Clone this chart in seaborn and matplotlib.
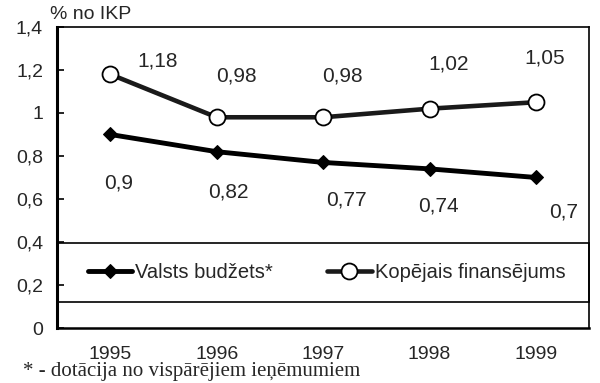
import matplotlib
matplotlib.use("Agg")
import matplotlib.pyplot as plt
from matplotlib.patches import Rectangle
import seaborn as sns
import pandas as pd

years = ["1995", "1996", "1997", "1998", "1999"]
valsts = [0.90, 0.82, 0.77, 0.74, 0.70]
kopejais = [1.18, 0.98, 0.98, 1.02, 1.05]
valsts_labels = ["0,9", "0,82", "0,77", "0,74", "0,7"]
kopejais_labels = ["1,18", "0,98", "0,98", "1,02", "1,05"]
ytick_labels = ["0", "0,2", "0,4", "0,6", "0,8", "1", "1,2", "1,4"]

# label offsets (points) relative to each data point
valsts_off = [(6, -35), (8.5, -29), (17, -27), (6.5, -27), (20, -25)]
kop_off = [(34, 9.5), (14, 30), (14, 30), (13.5, 32), (6, 32)]

sns.set_theme(style="white")
plt.rcParams["font.family"] = ["Liberation Sans", "DejaVu Sans"]

df = pd.DataFrame({"x": range(len(years)), "valsts": valsts, "kop": kopejais})

fig = plt.figure(figsize=(6.0, 3.83), dpi=100)
ax = fig.add_axes([0.095, 0.1436, 0.887, 0.786])

sns.lineplot(data=df, x="x", y="valsts", ax=ax, color="black", lw=3.5,
             marker="D", markersize=7.5, markerfacecolor="black",
             markeredgecolor="black", label="Valsts budžets*")
sns.lineplot(data=df, x="x", y="kop", ax=ax, color="#1a1a1a", lw=3.3,
             marker="o", markersize=11.5, markerfacecolor="white",
             markeredgecolor="black", markeredgewidth=1.3,
             label="Kopējais finansējums")

for i, (v, t, off) in enumerate(zip(valsts, valsts_labels, valsts_off)):
    ax.annotate(t, (i, v), xytext=off, textcoords="offset points",
                ha="center", va="center", fontsize=15)
for i, (v, t, off) in enumerate(zip(kopejais, kopejais_labels, kop_off)):
    ax.annotate(t, (i, v), xytext=off, textcoords="offset points",
                ha="center", va="center", fontsize=15)

ax.set_xlim(-0.5, len(years) - 0.5)
ax.set_ylim(0, 1.4)
ax.set_yticks([i * 0.2 for i in range(8)])
ax.set_yticklabels(ytick_labels, fontsize=14)
ax.set_xticks(range(len(years)))
ax.set_xticklabels(years, fontsize=14)
ax.tick_params(axis="x", which="major", length=0, pad=13)
ax.set_xticks([i + 0.5 for i in range(len(years) - 1)], minor=True)
ax.tick_params(axis="x", which="minor", direction="in", length=5, width=1.2, color="black")
ax.tick_params(axis="y", direction="in", length=5, width=1.2, color="black", left=True, pad=10)
ax.set_xlabel("")
ax.set_ylabel("")
ax.set_axisbelow(False)

for side, w in [("left", 2.2), ("bottom", 1.8), ("top", 1.2), ("right", 1.2)]:
    ax.spines[side].set_visible(True)
    ax.spines[side].set_color("black")
    ax.spines[side].set_linewidth(w)

# legend frame spanning the full axes width
ax.add_patch(Rectangle((0, 0.086), 1, 0.196, transform=ax.transAxes,
                       facecolor="white", edgecolor="black", lw=1.2,
                       zorder=2.2, clip_on=False))
leg = ax.legend(loc="center left", bbox_to_anchor=(0.058, 0.086, 0.897, 0.196),
                mode="expand", ncol=2, frameon=False,
                fontsize=14.5, handlelength=2.2, handletextpad=0.15,
                borderaxespad=0, borderpad=0, columnspacing=2.5)
leg.set_zorder(5)

fig.text(0.083, 0.963, "% no IKP", fontsize=14, ha="left", va="center")
fig.text(0.038, 0.029, "* - dotācija no vispārējiem ieņēmumiem", fontsize=15,
         ha="left", va="center", family=["Liberation Serif", "DejaVu Serif"])

fig.savefig("out.png", dpi=100)
